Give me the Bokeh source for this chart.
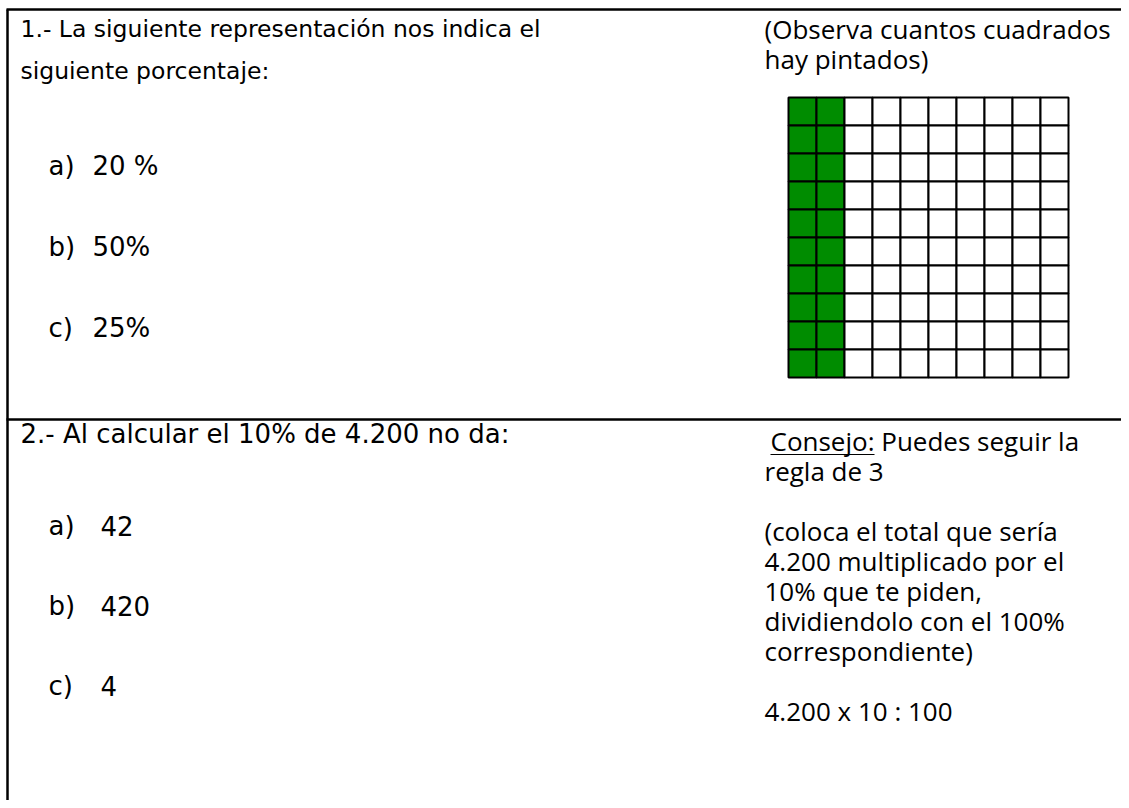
from bokeh.plotting import figure
from bokeh.models import Range1d, ColumnDataSource
from bokeh.core.properties import value
from bokeh.embed import file_html
from bokeh.resources import INLINE

# ---------------- data ----------------
grid_rows = 10
grid_cols = 10
painted_cols = 2          # 2 x 10 = 20 painted squares out of 100
painted_color = "#008c00"

q1_lines = ["1.- La siguiente representación nos indica el", "siguiente porcentaje:"]
q1_labels = ["a)", "b)", "c)"]
q1_values = ["20 %", "50%", "25%"]
hint1_lines = ["(Observa cuantos cuadrados", "hay pintados)"]

q2_lines = ["2.- Al calcular el 10% de 4.200 no da:"]
q2_labels = ["a)", "b)", "c)"]
q2_values = ["42", "420", "4"]
hint2_lines = ["Consejo: Puedes seguir la", "regla de 3", "", "(coloca el total que sería",
               "4.200 multiplicado por el", "10% que te piden,",
               "dividiendolo con el 100%", "correspondiente)", "", "4.200 x 10 : 100"]

# ---------------- layout ----------------
W, H = 1121, 800
p = figure(width=W, height=H, x_range=Range1d(0, W), y_range=Range1d(H, 0),
           output_backend="svg", toolbar_location=None, min_border=0,
           x_axis_type=None, y_axis_type=None)
p.grid.visible = False
p.outline_line_color = None
p.background_fill_color = "white"
p.border_fill_color = "white"

# table borders
p.segment(x0=[6, 7, 6], y0=[9, 9, 419], x1=[1129, 7, 1129], y1=[9, 808, 419],
          line_color="black", line_width=2.5)

COMIC = value("DejaVu Sans")
CALIBRI = value("Open Sans")
Q_SIZE, Q2_SIZE, OPT_SIZE, HINT_SIZE = 23.5, 26, 26, 26

def txt(xs, ys, texts, font, size, color="black"):
    p.text(x=xs, y=ys, text=texts, text_font=font, text_font_size=f"{size}px",
           text_baseline="middle", text_align="left", text_color=color)

# question 1
txt([20] * len(q1_lines), [28 + 42 * i for i in range(len(q1_lines))], q1_lines, COMIC, Q_SIZE)
opt_y1 = [165 + 81 * i for i in range(len(q1_labels))]
txt([48] * 3, opt_y1, q1_labels, COMIC, OPT_SIZE)
txt([92] * 3, opt_y1, q1_values, COMIC, OPT_SIZE)
txt([764] * len(hint1_lines), [28 + 30 * i for i in range(len(hint1_lines))], hint1_lines, CALIBRI, HINT_SIZE)

# grid of squares
x0, y0, cell = 788, 97, 28
cx, cy, fc = [], [], []
for r in range(grid_rows):
    for c in range(grid_cols):
        cx.append(x0 + (c + 0.5) * cell)
        cy.append(y0 + (r + 0.5) * cell)
        fc.append(painted_color if c < painted_cols else "white")
src = ColumnDataSource(dict(x=cx, y=cy, fc=fc))
p.rect(x="x", y="y", width=cell, height=cell, source=src, fill_color="fc",
       line_color="black", line_width=2)

# question 2
txt([20] * len(q2_lines), [433 + 42 * i for i in range(len(q2_lines))], q2_lines, COMIC, Q2_SIZE)
opt_y2 = [525 + 80 * i for i in range(len(q2_labels))]
txt([48] * 3, opt_y2, q2_labels, COMIC, OPT_SIZE)
txt([100] * 3, opt_y2, q2_values, COMIC, OPT_SIZE)

hy = [440 + 30 * i for i in range(len(hint2_lines))]
txt([770], [hy[0]], [hint2_lines[0]], CALIBRI, HINT_SIZE)
txt([764] * (len(hint2_lines) - 1), hy[1:], hint2_lines[1:], CALIBRI, HINT_SIZE)
head_w = 4.0 * HINT_SIZE
p.segment(x0=[770], y0=[hy[0] + 14], x1=[770 + head_w], y1=[hy[0] + 14],
          line_color="black", line_width=1.2)

open("out.html", "w").write(file_html(p, INLINE))
